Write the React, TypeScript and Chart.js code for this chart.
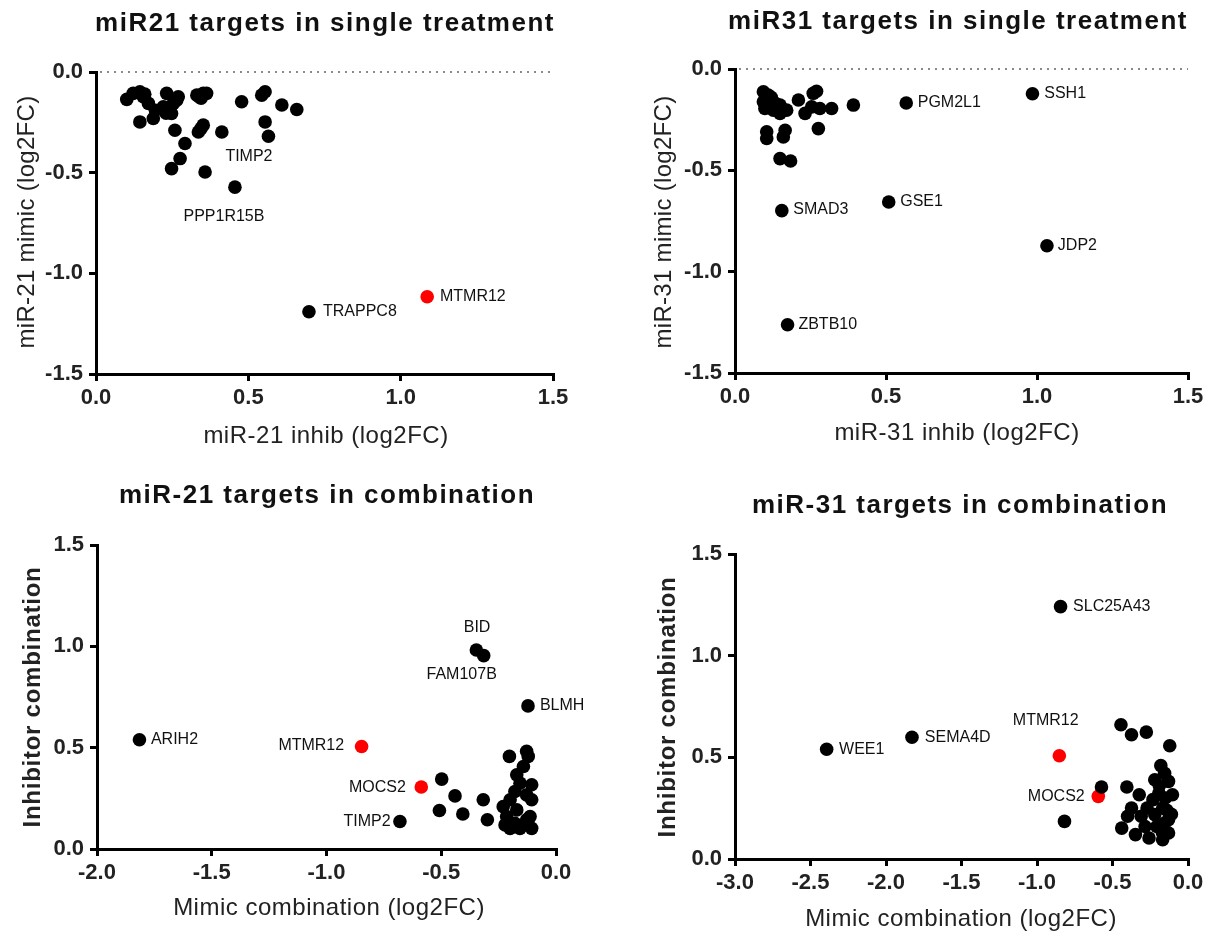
import React, { useEffect, useRef } from 'react';
import { Chart, registerables } from 'chart.js';

Chart.register(...registerables);

const FONT = "'Liberation Sans', Arial, Helvetica, sans-serif";
const PAGE_W = 1217;
const PAGE_H = 936;

// ---------- Panel 1: miR21 targets in single treatment ----------
const mir21SingleInhib = [0.101, 0.122, 0.144, 0.155, 0.172, 0.144, 0.188, 0.232, 0.221, 0.254, 0.27, 0.248, 0.259, 0.292, 0.276, 0.248, 0.331, 0.352, 0.363, 0.352, 0.336, 0.413, 0.358, 0.456, 0.478, 0.544, 0.555, 0.61, 0.659, 0.555, 0.566, 0.34, 0.345, 0.195, 0.23, 0.265, 0.16, 0.345, 0.699];
const mir21SingleMimic = [-0.136, -0.106, -0.098, -0.123, -0.156, -0.248, -0.231, -0.106, -0.173, -0.156, -0.123, -0.206, -0.289, -0.355, -0.43, -0.48, -0.115, -0.106, -0.106, -0.264, -0.298, -0.298, -0.497, -0.572, -0.148, -0.115, -0.098, -0.164, -0.186, -0.248, -0.319, -0.125, -0.28, -0.19, -0.205, -0.14, -0.11, -0.13, -1.191];
const mir21SingleRedInhib = [1.087];
const mir21SingleRedMimic = [-1.116];
const mir21SingleLabelText = ['TIMP2', 'PPP1R15B', 'TRAPPC8', 'MTMR12'];
const mir21SingleLabelX = [0.502, 0.42, 0.745, 1.129];
const mir21SingleLabelY = [-0.422, -0.72, -1.192, -1.118];
const mir21SingleLabelAlign = ['center', 'center', 'left', 'left'];

// ---------- Panel 2: miR31 targets in single treatment ----------
const mir31SingleInhib = [0.094, 0.11, 0.122, 0.094, 0.099, 0.127, 0.149, 0.171, 0.149, 0.21, 0.259, 0.232, 0.254, 0.281, 0.32, 0.392, 0.105, 0.105, 0.166, 0.16, 0.276, 0.149, 0.184, 0.115, 0.135, 0.16, 0.12, 0.27, 0.985, 0.567, 0.155, 0.509, 1.033, 0.174];
const mir31SingleMimic = [-0.112, -0.129, -0.153, -0.162, -0.195, -0.203, -0.219, -0.203, -0.178, -0.153, -0.12, -0.219, -0.187, -0.195, -0.195, -0.178, -0.31, -0.343, -0.302, -0.335, -0.294, -0.442, -0.454, -0.185, -0.17, -0.2, -0.14, -0.11, -0.122, -0.168, -0.699, -0.656, -0.872, -1.262];
const mir31SingleRedInhib: number[] = [];
const mir31SingleRedMimic: number[] = [];
const mir31SingleLabelText = ['SSH1', 'PGM2L1', 'SMAD3', 'GSE1', 'JDP2', 'ZBTB10'];
const mir31SingleLabelX = [1.024, 0.605, 0.193, 0.547, 1.069, 0.21];
const mir31SingleLabelY = [-0.122, -0.168, -0.694, -0.656, -0.872, -1.262];
const mir31SingleLabelAlign = ['left', 'left', 'left', 'left', 'left', 'left'];

// ---------- Panel 3: miR-21 targets in combination ----------
const mir21ComboMimic = [-0.498, -0.44, -0.508, -0.406, -0.317, -0.299, -0.203, -0.128, -0.121, -0.142, -0.171, -0.157, -0.106, -0.179, -0.128, -0.2, -0.23, -0.106, -0.171, -0.215, -0.113, -0.222, -0.179, -0.128, -0.106, -0.157, -0.2, -0.347, -0.315, -0.122, -1.815, -0.68];
const mir21ComboInhib = [0.345, 0.262, 0.19, 0.173, 0.243, 0.144, 0.457, 0.482, 0.457, 0.407, 0.366, 0.325, 0.317, 0.284, 0.267, 0.243, 0.209, 0.243, 0.193, 0.16, 0.16, 0.119, 0.127, 0.144, 0.102, 0.102, 0.102, 0.982, 0.954, 0.706, 0.539, 0.136];
const mir21ComboRedMimic = [-0.847, -0.587];
const mir21ComboRedInhib = [0.506, 0.306];
const mir21ComboLabelText = ['BID', 'FAM107B', 'BLMH', 'ARIH2', 'MTMR12', 'MOCS2', 'TIMP2'];
const mir21ComboLabelX = [-0.344, -0.411, -0.07, -1.765, -0.923, -0.654, -0.721];
const mir21ComboLabelY = [1.094, 0.859, 0.706, 0.539, 0.509, 0.301, 0.133];
const mir21ComboLabelAlign = ['center', 'center', 'left', 'left', 'right', 'right', 'right'];

// ---------- Panel 4: miR-31 targets in combination ----------
const mir31ComboMimic = [-0.844, -2.393, -1.828, -0.818, -0.444, -0.374, -0.276, -0.121, -0.573, -0.405, -0.323, -0.18, -0.155, -0.22, -0.129, -0.103, -0.193, -0.232, -0.374, -0.271, -0.168, -0.4, -0.31, -0.22, -0.129, -0.439, -0.348, -0.258, -0.168, -0.129, -0.207, -0.284, -0.155, -0.15, -0.19, -0.14, -0.17, -0.11];
const mir31ComboInhib = [1.241, 0.54, 0.599, 0.185, 0.66, 0.611, 0.624, 0.557, 0.354, 0.354, 0.316, 0.459, 0.422, 0.39, 0.382, 0.316, 0.324, 0.292, 0.251, 0.251, 0.251, 0.21, 0.21, 0.218, 0.193, 0.152, 0.12, 0.103, 0.095, 0.128, 0.16, 0.16, 0.177, 0.3, 0.36, 0.24, 0.13, 0.22];
const mir31ComboRedMimic = [-0.852, -0.594];
const mir31ComboRedInhib = [0.508, 0.308];
const mir31ComboLabelText = ['SLC25A43', 'WEE1', 'SEMA4D', 'MTMR12', 'MOCS2'];
const mir31ComboLabelX = [-0.761, -2.311, -1.743, -0.942, -0.684];
const mir31ComboLabelY = [1.241, 0.54, 0.599, 0.681, 0.308];
const mir31ComboLabelAlign = ['left', 'left', 'left', 'center', 'right'];

// ---------- layout (page pixels) ----------
type Panel = {
  xs: number[]; ys: number[]; rx: number[]; ry: number[];
  lt: string[]; lx: number[]; ly: number[]; la: string[];
  xMin: number; xMax: number; yMin: number; yMax: number;
  area: { left: number; right: number; top: number; bottom: number };
  title: string; titleX: number; titleY: number;
  xTitle: string; xTitleX: number; xTitleY: number;
  yTitle: string; yTitleX: number; yTitleY: number; yTitleBold: boolean;
  zeroLine: boolean;
};

const panels: Panel[] = [
  {
    xs: mir21SingleInhib, ys: mir21SingleMimic, rx: mir21SingleRedInhib, ry: mir21SingleRedMimic,
    lt: mir21SingleLabelText, lx: mir21SingleLabelX, ly: mir21SingleLabelY, la: mir21SingleLabelAlign,
    xMin: 0, xMax: 1.5, yMin: -1.5, yMax: 0,
    area: { left: 96, right: 553, top: 72, bottom: 374 },
    title: 'miR21 targets in single treatment', titleX: 325, titleY: 31,
    xTitle: 'miR-21 inhib (log2FC)', xTitleX: 326, xTitleY: 443,
    yTitle: 'miR-21 mimic (log2FC)', yTitleX: 27, yTitleY: 222, yTitleBold: false,
    zeroLine: true,
  },
  {
    xs: mir31SingleInhib, ys: mir31SingleMimic, rx: mir31SingleRedInhib, ry: mir31SingleRedMimic,
    lt: mir31SingleLabelText, lx: mir31SingleLabelX, ly: mir31SingleLabelY, la: mir31SingleLabelAlign,
    xMin: 0, xMax: 1.5, yMin: -1.5, yMax: 0,
    area: { left: 735, right: 1188, top: 69, bottom: 373 },
    title: 'miR31 targets in single treatment', titleX: 958, titleY: 29,
    xTitle: 'miR-31 inhib (log2FC)', xTitleX: 957, xTitleY: 440,
    yTitle: 'miR-31 mimic (log2FC)', yTitleX: 664, yTitleY: 222, yTitleBold: false,
    zeroLine: true,
  },
  {
    xs: mir21ComboMimic, ys: mir21ComboInhib, rx: mir21ComboRedMimic, ry: mir21ComboRedInhib,
    lt: mir21ComboLabelText, lx: mir21ComboLabelX, ly: mir21ComboLabelY, la: mir21ComboLabelAlign,
    xMin: -2, xMax: 0, yMin: 0, yMax: 1.5,
    area: { left: 97, right: 556, top: 545, bottom: 849 },
    title: 'miR-21 targets in combination', titleX: 327, titleY: 503,
    xTitle: 'Mimic combination (log2FC)', xTitleX: 329, xTitleY: 915,
    yTitle: 'Inhibitor combination', yTitleX: 33, yTitleY: 697, yTitleBold: true,
    zeroLine: false,
  },
  {
    xs: mir31ComboMimic, ys: mir31ComboInhib, rx: mir31ComboRedMimic, ry: mir31ComboRedInhib,
    lt: mir31ComboLabelText, lx: mir31ComboLabelX, ly: mir31ComboLabelY, la: mir31ComboLabelAlign,
    xMin: -3, xMax: 0, yMin: 0, yMax: 1.5,
    area: { left: 735, right: 1188, top: 554, bottom: 859 },
    title: 'miR-31 targets in combination', titleX: 960, titleY: 513,
    xTitle: 'Mimic combination (log2FC)', xTitleX: 961, xTitleY: 926,
    yTitle: 'Inhibitor combination', yTitleX: 668, yTitleY: 707, yTitleBold: true,
    zeroLine: false,
  },
];

const Y_W = 70;
const X_H = 50;

function toPoints(xs: number[], ys: number[]) {
  return xs.map((x, i) => ({ x, y: ys[i] }));
}

function axisOptions(min: number, max: number, horizontal: boolean) {
  return {
    type: 'linear' as const,
    position: horizontal ? ('bottom' as const) : ('left' as const),
    min,
    max,
    afterFit: (s: any) => {
      if (horizontal) s.height = X_H;
      else s.width = Y_W;
    },
    ticks: {
      stepSize: 0.5,
      autoSkip: false,
      maxRotation: 0,
      padding: horizontal ? 4 : 6,
      color: '#222',
      font: { family: FONT, size: 22, weight: 'bold' as const },
      callback: (v: any) => Number(v).toFixed(1),
    },
    grid: {
      display: true,
      drawOnChartArea: false,
      drawTicks: true,
      tickLength: 7,
      color: '#000',
      lineWidth: 3,
    },
    border: { display: true, color: '#000', width: 3 },
  };
}

function makeChart(canvas: HTMLCanvasElement, p: Panel) {
  const textPlugin = {
    id: 'panelText',
    beforeDatasetsDraw(chart: any) {
      if (!p.zeroLine) return;
      const ctx = chart.ctx;
      const y0 = chart.scales.y.getPixelForValue(0);
      ctx.save();
      ctx.strokeStyle = '#8a8a8a';
      ctx.lineWidth = 2;
      ctx.setLineDash([2, 5]);
      ctx.beginPath();
      ctx.moveTo(chart.chartArea.left + 4, y0);
      ctx.lineTo(chart.chartArea.right, y0);
      ctx.stroke();
      ctx.restore();
    },
    afterDatasetsDraw(chart: any) {
      const ctx = chart.ctx;
      const xs = chart.scales.x;
      const ys = chart.scales.y;
      ctx.save();
      ctx.fillStyle = '#111';
      ctx.font = `16px ${FONT}`;
      ctx.textBaseline = 'middle';
      p.lt.forEach((t, i) => {
        ctx.textAlign = p.la[i] as CanvasTextAlign;
        ctx.fillText(t, xs.getPixelForValue(p.lx[i]), ys.getPixelForValue(p.ly[i]));
      });
      ctx.restore();
    },
    afterDraw(chart: any) {
      const ctx = chart.ctx;
      ctx.save();
      ctx.fillStyle = '#111';
      ctx.textAlign = 'center';
      ctx.textBaseline = 'alphabetic';
      ctx.font = `bold 26px ${FONT}`;
      (ctx as any).letterSpacing = '1.5px';
      ctx.fillText(p.title, p.titleX, p.titleY);
      ctx.font = `24px ${FONT}`;
      (ctx as any).letterSpacing = '0.5px';
      ctx.fillStyle = '#222';
      ctx.fillText(p.xTitle, p.xTitleX, p.xTitleY);
      ctx.translate(p.yTitleX, p.yTitleY);
      ctx.rotate(-Math.PI / 2);
      ctx.textBaseline = 'middle';
      ctx.font = p.yTitleBold ? `bold 24px ${FONT}` : `24px ${FONT}`;
      (ctx as any).letterSpacing = p.yTitleBold ? '0.75px' : '0.3px';
      ctx.fillText(p.yTitle, 0, 0);
      ctx.restore();
    },
  };

  return new Chart(canvas, {
    type: 'scatter',
    data: {
      datasets: [
        {
          data: toPoints(p.xs, p.ys),
          backgroundColor: '#000',
          borderWidth: 0,
          pointRadius: 6.8,
          pointHoverRadius: 6.8,
        },
        {
          data: toPoints(p.rx, p.ry),
          backgroundColor: '#ff0000',
          borderWidth: 0,
          pointRadius: 6.8,
          pointHoverRadius: 6.8,
        },
      ],
    },
    options: {
      responsive: false,
      animation: false,
      events: [],
      layout: {
        padding: {
          left: p.area.left - Y_W,
          right: PAGE_W - p.area.right,
          top: p.area.top,
          bottom: PAGE_H - p.area.bottom - X_H,
        },
      },
      plugins: {
        legend: { display: false },
        tooltip: { enabled: false },
        title: { display: false },
      },
      scales: {
        x: axisOptions(p.xMin, p.xMax, true) as any,
        y: axisOptions(p.yMin, p.yMax, false) as any,
      },
    },
    plugins: [textPlugin],
  });
}

function PanelCanvas({ panel }: { panel: Panel }) {
  const ref = useRef<HTMLCanvasElement | null>(null);
  useEffect(() => {
    if (!ref.current) return;
    const chart = makeChart(ref.current, panel);
    return () => chart.destroy();
  }, [panel]);
  return (
    <canvas
      ref={ref}
      width={PAGE_W}
      height={PAGE_H}
      style={{ position: 'absolute', left: 0, top: 0, width: PAGE_W, height: PAGE_H }}
    />
  );
}

export default function App() {
  return (
    <div
      style={{
        position: 'absolute',
        left: 0,
        top: 0,
        width: PAGE_W,
        height: PAGE_H,
        background: '#fff',
        overflow: 'hidden',
      }}
    >
      {panels.map((p, i) => (
        <PanelCanvas key={i} panel={p} />
      ))}
    </div>
  );
}
